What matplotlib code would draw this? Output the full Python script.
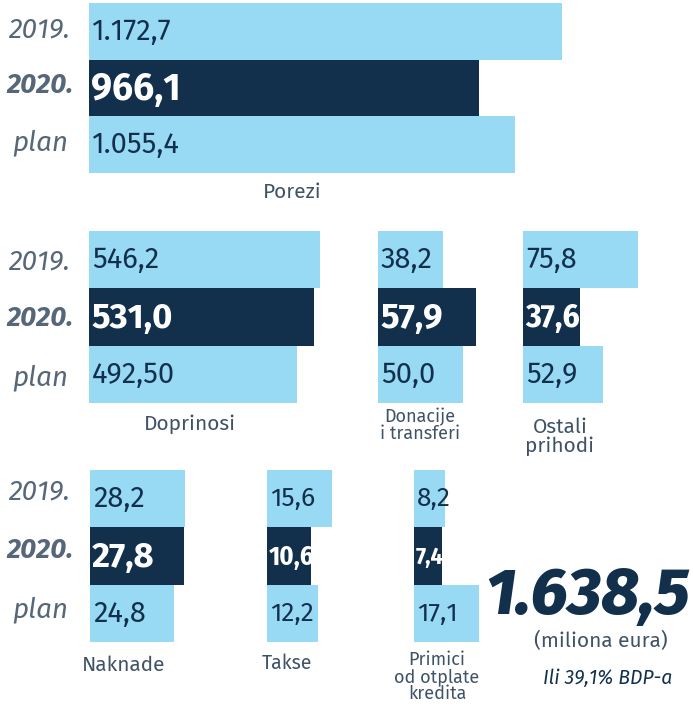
import matplotlib.pyplot as plt

# vrijednosti (miliona eura): 2019., 2020., plan
porezi = [1172.7, 966.1, 1055.4]
doprinosi = [546.2, 531.0, 492.50]
donacije = [38.2, 57.9, 50.0]
ostali = [75.8, 37.6, 52.9]
naknade = [28.2, 27.8, 24.8]
takse = [15.6, 10.6, 12.2]
primici = [8.2, 7.4, 17.1]

labele_porezi = ['1.172,7', '966,1', '1.055,4']
labele_doprinosi = ['546,2', '531,0', '492,50']
labele_donacije = ['38,2', '57,9', '50,0']
labele_ostali = ['75,8', '37,6', '52,9']
labele_naknade = ['28,2', '27,8', '24,8']
labele_takse = ['15,6', '10,6', '12,2']
labele_primici = ['8,2', '7,4', '17,1']

godine = ['2019.', '2020.', 'plan']
ukupno = '1.638,5'

SVIJETLA = '#98d9f3'
TAMNA = '#12304c'
SIVA = '#56677a'
USKI = ['Fira Sans Condensed', 'Roboto', 'DejaVu Sans']

plt.rcParams['font.family'] = ['Fira Sans', 'Roboto', 'DejaVu Sans']

W, H = 693, 709
fig = plt.figure(figsize=(W / 100, H / 100), dpi=100)


def panel(vrijednosti, labele, x0, top, bottom, sirina, vel2020=24, vel=21,
          font2020=None):
    # sirina = pikseli za najvecu vrijednost
    ax = fig.add_axes([x0 / W, 1 - bottom / H, sirina / W, (bottom - top) / H])
    boje = [SVIJETLA, TAMNA, SVIJETLA]
    ax.barh([0, 1, 2], vrijednosti, height=1.0, color=boje, left=0)
    ax.set_xlim(0, max(vrijednosti))
    ax.set_ylim(2.5, -0.5)
    ax.axis('off')
    for i, (v, t) in enumerate(zip(vrijednosti, labele)):
        if i == 1:
            ax.annotate(t, (0, i), xytext=(1.5, -1), textcoords='offset points',
                        va='center', ha='left', color='white',
                        fontsize=vel2020, fontweight='bold',
                        family=font2020 or plt.rcParams['font.family'])
        else:
            ax.annotate(t, (0, i), xytext=(2, 0), textcoords='offset points',
                        va='center', ha='left', color=TAMNA,
                        fontsize=vel, fontweight='normal')
    return ax


panel(porezi, labele_porezi, 89, 3, 173, 473, vel2020=27)
panel(doprinosi, labele_doprinosi, 89, 231, 403, 231, vel2020=25)
panel(donacije, labele_donacije, 378, 231, 403, 98, vel2020=25)
panel(ostali, labele_ostali, 523, 231, 403, 115, vel2020=24, font2020=USKI)
panel(naknade, labele_naknade, 90, 470, 642, 95, vel2020=25)
panel(takse, labele_takse, 267, 470, 642, 65, vel2020=19, vel=19, font2020=USKI)
panel(primici, labele_primici, 414, 470, 642, 65, vel2020=17, vel=19, font2020=USKI)

# oznake redova
for redovi in ([30, 85, 143], [262, 318, 378], [492, 550, 610]):
    for g, y in zip(godine, redovi):
        fig.text(40 / W, 1 - y / H, g, ha='center', va='center', color=SIVA,
                 fontsize=20, style='italic',
                 fontweight='bold' if g == '2020.' else 'normal')

# nazivi kategorija
kategorije = [('Porezi', 292, 192, 15), ('Doprinosi', 190, 424, 15),
              ('Donacije\ni transferi', 420, 425, 13), ('Ostali\nprihodi', 560, 437, 15),
              ('Naknade', 124, 665, 15), ('Takse', 287, 663, 14),
              ('Primici\nod otplate\nkredita', 437, 677, 13)]
for naziv, x, y, vel in kategorije:
    fig.text(x / W, 1 - y / H, naziv, ha='center', va='center', color='#3f5266',
             fontsize=vel, fontweight='normal', linespacing=0.95)

fig.text(588 / W, 1 - 596 / H, ukupno, ha='center', va='center', color=TAMNA,
         fontsize=47, fontweight='heavy', style='italic')
fig.text(601 / W, 1 - 641 / H, '(miliona eura)', ha='center', va='center',
         color='#3f5266', fontsize=15, fontweight='normal')
fig.text(608 / W, 1 - 678 / H, 'Ili 39,1% BDP-a', ha='center', va='center',
         color=TAMNA, fontsize=14, style='italic')

fig.savefig('out.png', dpi=100)
